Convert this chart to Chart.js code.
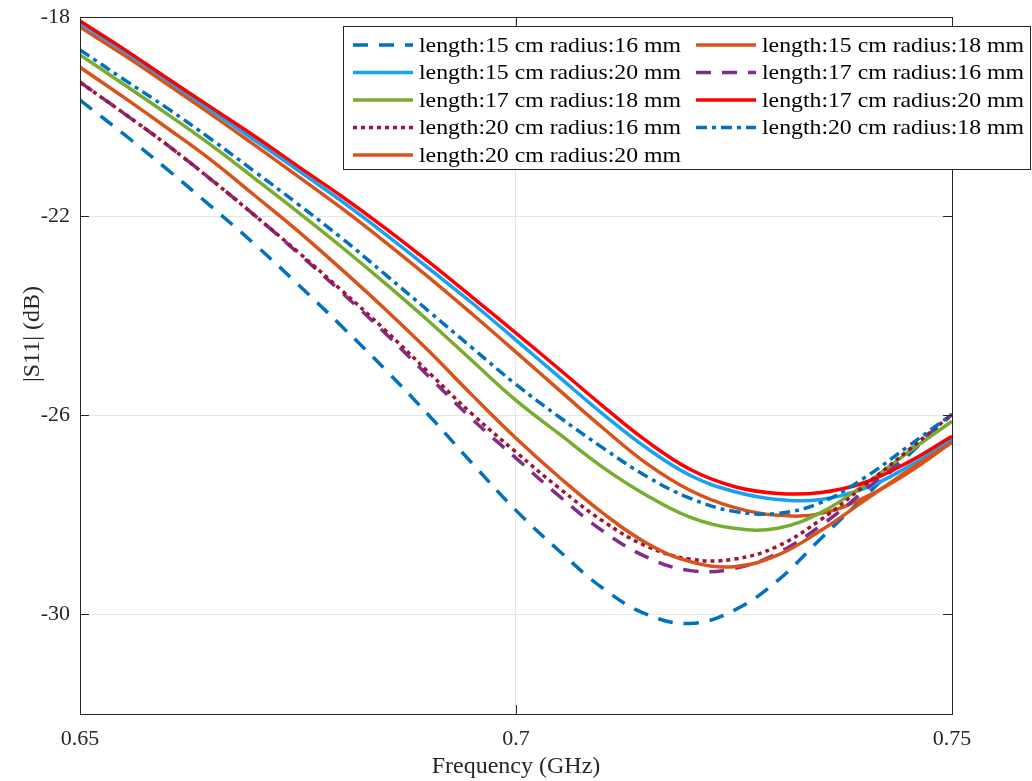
<!DOCTYPE html>
<html>
<head>
<meta charset="utf-8">
<script src="https://cdn.jsdelivr.net/npm/chart.js@4.4.1/dist/chart.umd.min.js"></script>
<style>
html,body{margin:0;padding:0;background:#fff;}
canvas{display:block;}
</style>
</head>
<body>
<canvas id="c" width="1032" height="781"></canvas>
<script>
// ---- data ----
const freq = [0.65,0.655,0.66,0.665,0.67,0.675,0.68,0.685,0.69,0.695,0.70,0.705,0.71,0.715,0.72,0.725,0.73,0.735,0.74,0.745,0.75];
const xTicks = [0.65, 0.7, 0.75];
const yTicks = [-30, -26, -22, -18];

const labels = [
  'length:15 cm radius:16 mm','length:15 cm radius:18 mm',
  'length:15 cm radius:20 mm','length:17 cm radius:16 mm',
  'length:17 cm radius:18 mm','length:17 cm radius:20 mm',
  'length:20 cm radius:16 mm','length:20 cm radius:18 mm',
  'length:20 cm radius:20 mm'
];

const l15_r16 = [-19.67,-20.35,-21.06,-21.80,-22.56,-23.37,-24.21,-25.08,-26.00,-26.97,-27.91,-28.73,-29.48,-30.00,-30.18,-29.92,-29.32,-28.47,-27.63,-26.80,-25.98];
const l15_r18 = [-18.20,-18.76,-19.35,-19.95,-20.57,-21.20,-21.84,-22.52,-23.23,-23.97,-24.73,-25.50,-26.26,-26.97,-27.51,-27.85,-28.01,-27.97,-27.65,-27.15,-26.54];
const l15_r20 = [-18.12,-18.68,-19.27,-19.87,-20.47,-21.08,-21.70,-22.36,-23.05,-23.75,-24.49,-25.24,-25.98,-26.66,-27.21,-27.53,-27.69,-27.69,-27.47,-27.03,-26.48];
const l17_r16 = [-19.31,-19.93,-20.57,-21.26,-21.98,-22.74,-23.53,-24.35,-25.22,-26.08,-26.86,-27.63,-28.33,-28.85,-29.12,-29.08,-28.77,-28.21,-27.51,-26.74,-25.98];
const l17_r18 = [-18.76,-19.35,-19.95,-20.57,-21.24,-21.92,-22.62,-23.35,-24.11,-24.91,-25.70,-26.38,-27.05,-27.61,-28.05,-28.27,-28.27,-27.95,-27.39,-26.74,-26.12];
const l17_r20 = [-18.08,-18.64,-19.23,-19.81,-20.39,-21.00,-21.60,-22.24,-22.92,-23.63,-24.35,-25.08,-25.82,-26.52,-27.09,-27.43,-27.57,-27.55,-27.35,-26.94,-26.42];
const l20_r16 = [-19.31,-19.93,-20.57,-21.26,-21.98,-22.72,-23.49,-24.29,-25.14,-25.98,-26.74,-27.47,-28.13,-28.63,-28.89,-28.89,-28.63,-28.09,-27.41,-26.70,-25.98];
const l20_r18 = [-18.66,-19.25,-19.83,-20.45,-21.10,-21.76,-22.44,-23.17,-23.91,-24.65,-25.38,-26.04,-26.66,-27.23,-27.67,-27.93,-27.97,-27.75,-27.25,-26.62,-25.98];
const l20_r20 = [-19.01,-19.61,-20.23,-20.87,-21.58,-22.30,-23.07,-23.87,-24.71,-25.60,-26.46,-27.25,-27.97,-28.57,-28.94,-29.04,-28.81,-28.31,-27.71,-27.11,-26.54];

const seriesValues = [l15_r16,l15_r18,l15_r20,l17_r16,l17_r18,l17_r20,l20_r16,l20_r18,l20_r20];

// ---- styles ----
const styles = [
  {color:'#0072BD', dash:[15,11]},
  {color:'#D95319', dash:[]},
  {color:'#18A0F2', dash:[]},
  {color:'#7E2F8E', dash:[15,11]},
  {color:'#77AC30', dash:[]},
  {color:'#FF0000', dash:[]},
  {color:'#A2142F', dash:[4,4]},
  {color:'#0072BD', dash:[11,5,4,5]},
  {color:'#D95319', dash:[]}
];

const SERIF = '"Liberation Serif", "Times New Roman", serif';
const AX = '#262626';

const datasets = seriesValues.map((vals, i) => ({
  label: labels[i],
  data: freq.map((f, k) => ({x: f, y: vals[k]})),
  borderColor: styles[i].color,
  backgroundColor: styles[i].color,
  borderDash: styles[i].dash,
  borderCapStyle: 'butt',
  borderWidth: 3.5,
  pointRadius: 0,
  tension: 0.4,
  fill: false,
  order: seriesValues.length - i
}));

const matlabPlugin = {
  id: 'matlabDecor',
  afterDatasetsDraw(chart) {
    const ctx = chart.ctx;
    const a = chart.chartArea;
    const xs = chart.scales.x, ys = chart.scales.y;
    ctx.save();
    // box
    ctx.strokeStyle = AX;
    ctx.lineWidth = 1;
    ctx.setLineDash([]);
    ctx.strokeRect(Math.round(a.left)+0.5, Math.round(a.top)+0.5, Math.round(a.right-a.left), Math.round(a.bottom-a.top));
    // inward ticks
    const tl = 9;
    ctx.beginPath();
    xTicks.forEach(v => {
      const px = Math.round(xs.getPixelForValue(v)) + 0.5;
      ctx.moveTo(px, a.bottom); ctx.lineTo(px, a.bottom - tl);
      ctx.moveTo(px, a.top); ctx.lineTo(px, a.top + tl);
    });
    yTicks.forEach(v => {
      const py = Math.round(ys.getPixelForValue(v)) + 0.5;
      ctx.moveTo(a.left, py); ctx.lineTo(a.left + tl, py);
      ctx.moveTo(a.right, py); ctx.lineTo(a.right - tl, py);
    });
    ctx.stroke();

    // axis titles
    ctx.fillStyle = AX;
    ctx.font = '24px ' + SERIF;
    ctx.textAlign = 'center';
    ctx.textBaseline = 'middle';
    ctx.fillText('Frequency (GHz)', (a.left + a.right) / 2, 767);
    ctx.save();
    ctx.translate(33, 334);
    ctx.rotate(-Math.PI / 2);
    ctx.fillText('|S11| (dB)', 0, 0);
    ctx.restore();

    // legend
    const bx = 343, by = 26, bw = 1030 - 343, bh = 169 - 26;
    ctx.fillStyle = '#fff';
    ctx.fillRect(bx, by, bw, bh);
    ctx.strokeStyle = AX;
    ctx.lineWidth = 1;
    ctx.strokeRect(bx + 0.5, by + 0.5, bw, bh);
    const colLineStart = [353, 696], colLineEnd = [413, 756], colText = [419, 762];
    ctx.font = '21px ' + SERIF;
    const natural = ctx.measureText(labels[0]).width;
    const sx = 262 / natural;
    chart.data.datasets.forEach((ds, i) => {
      const row = Math.floor(i / 2), col = i % 2;
      const y = 45 + row * 27.5;
      ctx.save();
      ctx.strokeStyle = ds.borderColor;
      ctx.lineWidth = ds.borderWidth;
      ctx.lineCap = 'butt';
      ctx.setLineDash(ds.borderDash);
      ctx.beginPath();
      ctx.moveTo(colLineStart[col], y);
      ctx.lineTo(colLineEnd[col], y);
      ctx.stroke();
      ctx.restore();
      ctx.save();
      ctx.fillStyle = '#000';
      ctx.textAlign = 'left';
      ctx.textBaseline = 'middle';
      ctx.translate(colText[col], y + 1);
      ctx.scale(sx, 1);
      ctx.fillText(ds.label, 0, 0);
      ctx.restore();
    });
    ctx.restore();
  }
};

new Chart(document.getElementById('c'), {
  type: 'line',
  data: { datasets },
  options: {
    responsive: false,
    animation: false,
    devicePixelRatio: 1,
    layout: { padding: { left: 0, right: 80, top: 17, bottom: 0 } },
    plugins: { legend: { display: false }, tooltip: { enabled: false }, title: { display: false } },
    scales: {
      x: {
        type: 'linear',
        min: 0.65, max: 0.75,
        afterBuildTicks: s => { s.ticks = xTicks.map(v => ({ value: v })); },
        afterFit: s => { s.height = 67; s.paddingLeft = 0; s.paddingRight = 0; },
        ticks: {
          autoSkip: false, maxRotation: 0, minRotation: 0,
          color: AX, padding: 12,
          font: { family: SERIF, size: 22 },
          callback: v => String(v)
        },
        grid: { color: '#e6e6e6', lineWidth: 1, drawTicks: false },
        border: { display: false }
      },
      y: {
        type: 'linear',
        min: -32, max: -18,
        afterBuildTicks: s => { s.ticks = yTicks.map(v => ({ value: v })); },
        afterFit: s => { s.width = 80; s.paddingTop = 0; s.paddingBottom = 0; },
        ticks: {
          autoSkip: false, color: AX, padding: 10,
          font: { family: SERIF, size: 22 },
          callback: v => String(v)
        },
        grid: { color: '#e6e6e6', lineWidth: 1, drawTicks: false },
        border: { display: false }
      }
    }
  },
  plugins: [matlabPlugin]
});
</script>
</body>
</html>
